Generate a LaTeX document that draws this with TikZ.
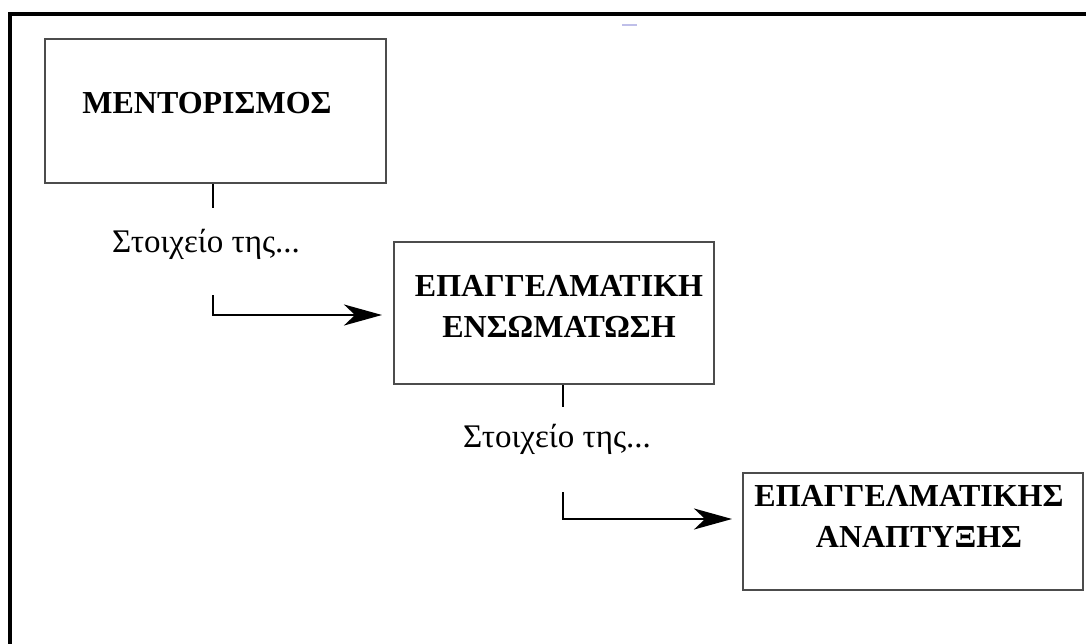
\documentclass[tikz,border=0pt]{standalone}
\usepackage{fontspec}
\setmainfont{Liberation Serif}
\usetikzlibrary{arrows.meta}
\begin{document}
\begin{tikzpicture}[x=1pt,y=-1pt,
  box/.style={draw=black!70,line width=2pt,fill=none,inner sep=0pt},
  title/.style={font=\fontsize{32}{41}\selectfont\bfseries,align=center,inner sep=0pt},
  lab/.style={font=\fontsize{33}{36}\selectfont,inner sep=0pt},
  conn/.style={line width=2.6pt,black},
  arr/.style={conn,-{Stealth[length=38pt,width=21pt,inset=11pt]}}]
\useasboundingbox (0,0) rectangle (1086,644);
% outer frame (open at right and bottom)
\draw[line width=4pt,line join=miter] (10,648) -- (10,14) -- (1090,14);
% faint mark at top
\draw[line width=1.5pt,black!35!blue!25] (622,25) -- (637,25);
% boxes
\node[box,minimum width=341pt,minimum height=144pt] (b1) at (215.5,111) {};
\node[box,minimum width=320pt,minimum height=142pt] (b2) at (554,313) {};
\node[box,minimum width=340pt,minimum height=117pt] (b3) at (913,531.5) {};
% titles
\node[title] (t1) at (207,103) {ΜΕΝΤΟΡΙΣΜΟΣ};
\node[title] (t2) at (559,306) {ΕΠΑΓΓΕΛΜΑΤΙΚΗ\\ΕΝΣΩΜΑΤΩΣΗ};
\node[title] (t3) at (909,516) {ΕΠΑΓΓΕΛΜΑΤΙΚΗΣ\\\hspace*{20pt}ΑΝΑΠΤΥΞΗΣ};
% labels
\node[lab] (l1) at (206,244) {Στοιχείο της...};
\node[lab] (l2) at (557,439) {Στοιχείο της...};
% connectors
\coordinate (c1a) at (213,208);
\coordinate (c1b) at (213,295);
\coordinate (c2a) at (563,407);
\coordinate (c2b) at (563,492);
\draw[conn] (b1.south -| c1a) -- (c1a);
\draw[arr,shorten >=11pt] (c1b) |- ([yshift=-2pt]b2.west);
\draw[conn] (b2.south -| c2a) -- (c2a);
\draw[arr,shorten >=10pt] (c2b) |- ([yshift=12.5pt]b3.west);
\end{tikzpicture}
\end{document}
